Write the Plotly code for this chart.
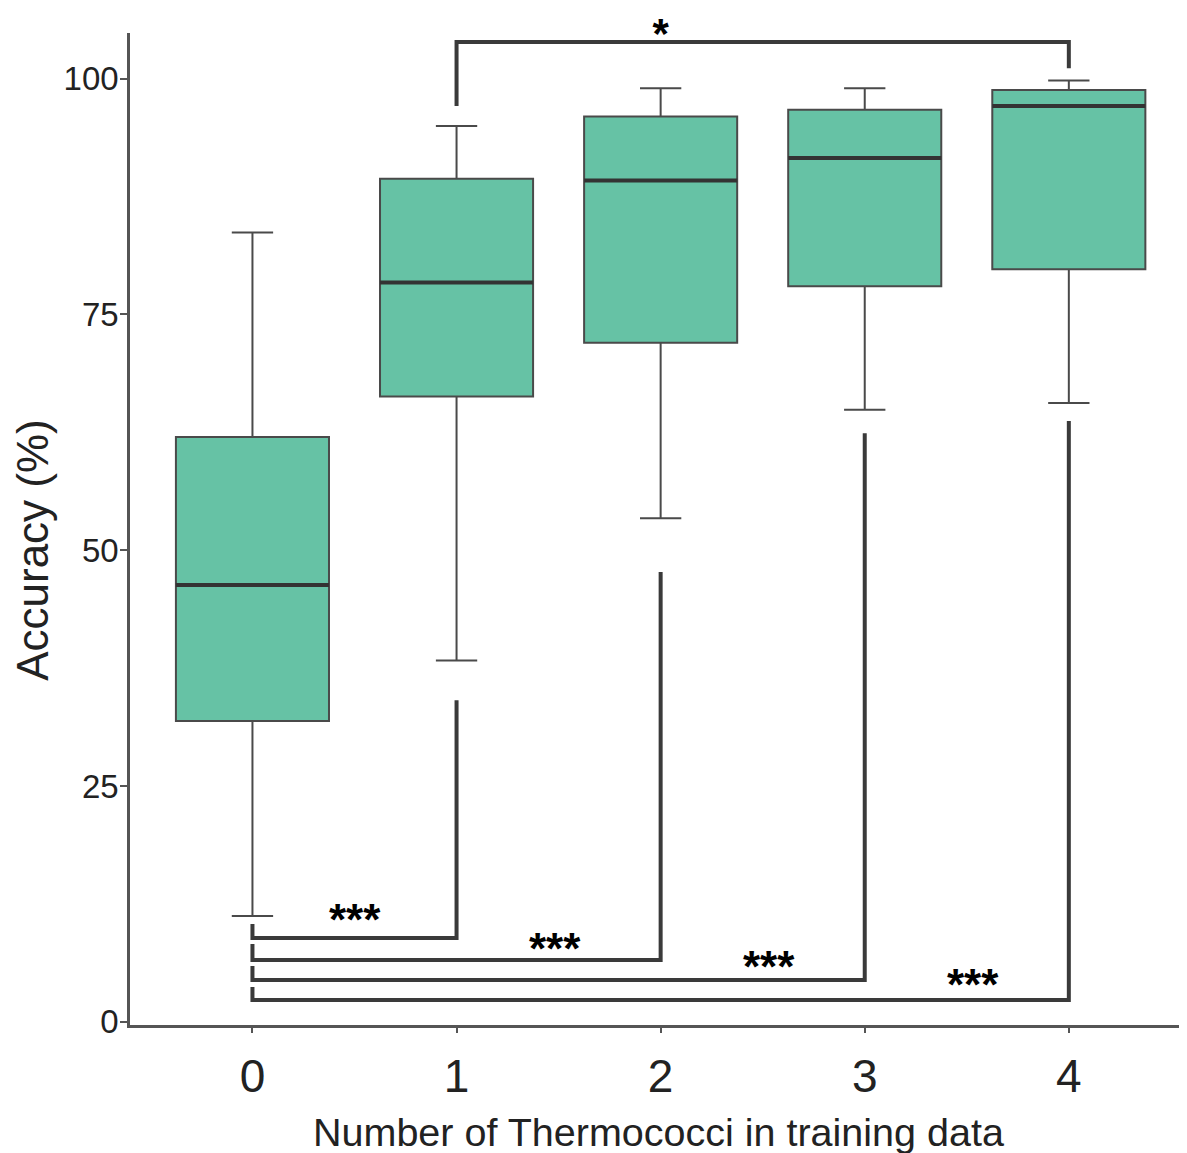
import plotly.graph_objects as go

# ---------------- data ----------------
groups = [0, 1, 2, 3, 4]
tick_labels = ["0", "1", "2", "3", "4"]
lower_whisker = [11.2, 38.3, 53.4, 64.9, 65.6]
q1 = [31.9, 66.3, 72.0, 78.0, 79.8]
median = [46.3, 78.4, 89.2, 91.6, 97.1]
q3 = [62.0, 89.4, 96.0, 96.7, 98.8]
upper_whisker = [83.7, 95.0, 99.0, 99.0, 99.8]

# significance brackets: (left group, right group, left tip, bar level, right tip)
br_left = [0, 0, 0, 0, 1]
br_right = [1, 2, 3, 4, 4]
br_tip_left = [10.36, 8.24, 5.9, 3.68, 97.1]
br_bar = [8.88, 6.54, 4.42, 2.30, 103.9]
br_tip_right = [34.1, 47.7, 62.4, 63.7, 101.1]
# significance labels
sig_labels = ["***", "***", "***", "***", "*"]
sig_x = [0.50, 1.48, 2.53, 3.53, 2.0]
sig_y = [11.5, 8.35, 6.54, 4.63, 105.8]

y_ticks = [0, 25, 50, 75, 100]
Y_RANGE = [-0.35, 104.85]
X_RANGE = [-0.6, 4.579]

X_TITLE = "Number of Thermococci in training data"
Y_TITLE = "Accuracy (%)"

W, H = 1179, 1145
M = dict(l=122, r=0, t=25, b=128)
PX_PER_Y = (H - M["t"] - M["b"]) / (Y_RANGE[1] - Y_RANGE[0])

BOX_W = 0.75
FILL = "#66c2a5"
EDGE = "#4a4a4a"
DARK = "#333333"
STAR_FONT = 44

fig = go.Figure()

fig.add_trace(go.Box(
    x=groups, q1=q1, median=median, q3=q3,
    lowerfence=lower_whisker, upperfence=upper_whisker,
    width=BOX_W, whiskerwidth=0.27,
    fillcolor=FILL, line=dict(color=EDGE, width=2),
    boxpoints=False, showlegend=False, hoverinfo="skip",
))

# thicker median lines
mx, my = [], []
for g, m in zip(groups, median):
    mx += [g - BOX_W / 2, g + BOX_W / 2, None]
    my += [m, m, None]
fig.add_trace(go.Scatter(x=mx, y=my, mode="lines",
                         line=dict(color=DARK, width=4),
                         showlegend=False, hoverinfo="skip"))

# brackets
bx, by = [], []
for l, r, tl, b, tr in zip(br_left, br_right, br_tip_left, br_bar, br_tip_right):
    bx += [l, l, r, r, None]
    by += [tl, b, b, tr, None]
fig.add_trace(go.Scatter(x=bx, y=by, mode="lines",
                         line=dict(color="#3a3a3a", width=4),
                         showlegend=False, hoverinfo="skip", cliponaxis=False))

# significance labels
for lab, sx, sy in zip(sig_labels, sig_x, sig_y):
    if Y_RANGE[0] <= sy <= Y_RANGE[1]:
        fig.add_annotation(x=sx, y=sy, text=lab, showarrow=False,
                           xref="x", yref="y", yanchor="middle", yshift=-6,
                           font=dict(family="Liberation Sans", size=STAR_FONT,
                                     color="black", weight="bold"))
    else:
        fs = 42
        # asterisk glyph sits ~0.32em above the text anchor point
        y_anchor = sy - 0.32 * fs / PX_PER_Y
        fig.add_trace(go.Scatter(
            x=[sx], y=[y_anchor], mode="text", text=[lab],
            textposition="middle center", cliponaxis=False,
            textfont=dict(family="Liberation Sans", size=fs, color="black",
                          weight="bold"),
            showlegend=False, hoverinfo="skip"))

# axis titles
fig.add_annotation(x=0, y=0.479, xref="paper", yref="paper", text=Y_TITLE,
                   textangle=-90, showarrow=False, xanchor="center",
                   yanchor="middle", xshift=-97,
                   font=dict(family="Liberation Sans", size=44, color="#222222"))
fig.add_annotation(x=0.5, y=0, xref="paper", yref="paper", text=X_TITLE,
                   showarrow=False, xanchor="center", yanchor="middle",
                   yshift=-107,
                   font=dict(family="Liberation Sans", size=39.5, color="#222222"))

fig.update_layout(
    width=W, height=H, margin=M,
    paper_bgcolor="white", plot_bgcolor="white",
    font=dict(family="Liberation Sans"),
    showlegend=False,
)
fig.update_xaxes(
    range=X_RANGE, tickmode="array", tickvals=groups, ticktext=tick_labels,
    showline=True, linecolor="#555555", linewidth=2.5, automargin=False,
    ticks="outside", ticklen=5, tickwidth=2, tickcolor="#555555",
    showgrid=False, zeroline=False, ticklabelstandoff=4,
    tickfont=dict(size=46, color="#222222"),
)
fig.update_yaxes(
    range=Y_RANGE, tickmode="array", tickvals=y_ticks,
    showline=True, linecolor="#555555", linewidth=2.5, automargin=False,
    ticks="outside", ticklen=7, tickwidth=2, tickcolor="#555555",
    showgrid=False, zeroline=False, ticklabelstandoff=-5,
    tickfont=dict(size=33, color="#222222"),
)

fig.write_html("out.html")
